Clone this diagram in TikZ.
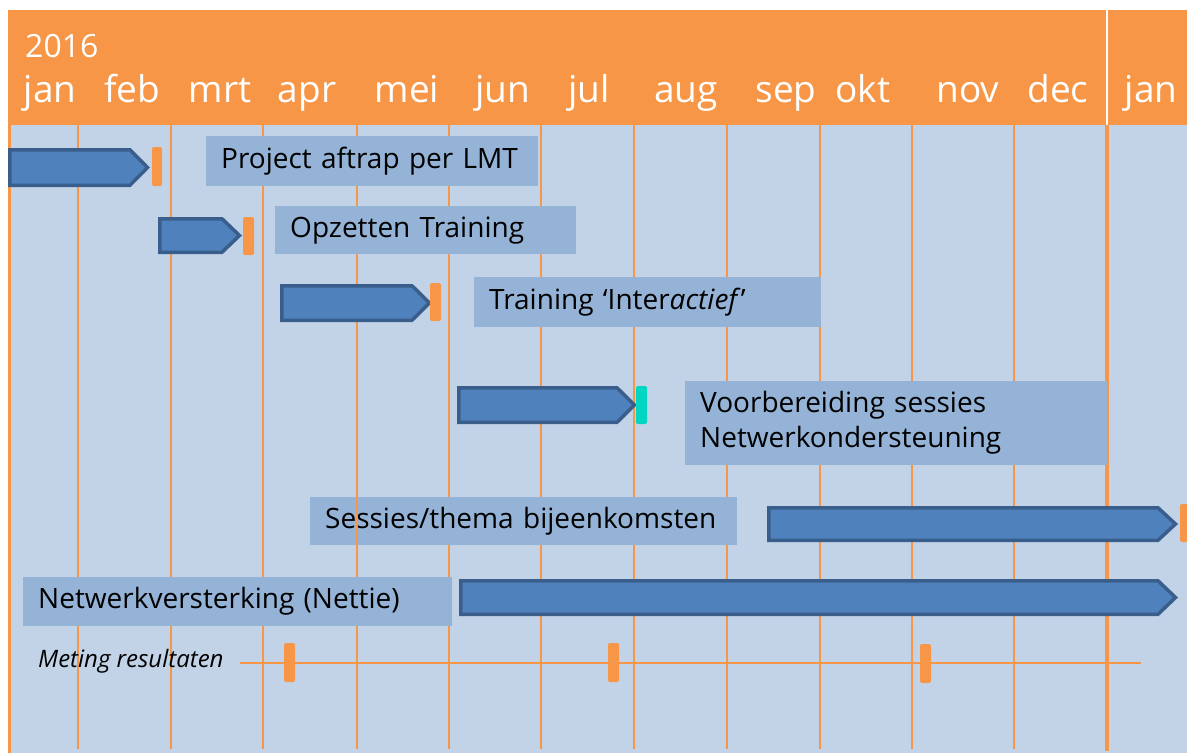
\documentclass[tikz,border=0pt]{standalone}
\usepackage{fontspec}
\setmainfont{Open Sans}
\definecolor{orng}{HTML}{F79646}
\definecolor{bodyblue}{HTML}{C2D3E8}
\definecolor{boxblue}{HTML}{95B3D7}
\definecolor{barfill}{HTML}{4F81BD}
\definecolor{barline}{HTML}{3A5E8C}
\definecolor{teal}{HTML}{00D6C2}
% task bar: #1 left, #2 tip, #3 top, #4 bottom (outer edges)
\newcommand\ganttbar[4]{%
  \draw[barst] ({#1+1.75},{#3+1.75}) -- ({#2-20},{#3+1.75})
    -- ({#2-2.5},{(#3+#4)/2}) -- ({#2-20},{#4-1.75})
    -- ({#1+1.75},{#4-1.75}) -- cycle;}
\begin{document}
\begin{tikzpicture}[x=1pt,y=-1pt,
  gridline/.style={orng, line width=2pt},
  barst/.style={fill=barfill, draw=barline, line width=3.5pt, line join=miter},
  month/.style={anchor=base, inner sep=0pt, text=white, font=\fontsize{37}{44}\selectfont},
  tbox/.style={fill=boxblue, anchor=north west, inner xsep=15pt, inner ysep=0pt,
    align=left, font=\fontsize{28}{35}\selectfont},
  milestone/.style={fill=orng, rounded corners=2pt}]
\useasboundingbox (0,0) rectangle (1187,753);
\clip (0,0) rectangle (1187,753);
\fill[white] (0,0) rectangle (1187,753);
% chart body and month grid
\fill[bodyblue] (9,125) rectangle (1187,753);
\draw[orng, line width=2.5pt] (9.5,125) -- (9.5,753);
\foreach \x in {78,171,263,357,449,541,634,727,820,912,1014}
  \draw[gridline] (\x,125) -- (\x,749);
\draw[orng, line width=4pt] (1107,125) -- (1107,751);
% header
\fill[orng] (8,10) rectangle (1187,125);
\draw[white, line width=1.5pt] (1107,10) -- (1107,125);
\node[anchor=base west, inner sep=0pt, text=white, font=\fontsize{32}{38}\selectfont] (year) at (25,57) {2016};
\foreach \m/\x [count=\i] in {jan/50,feb/132,mrt/220,apr/307,mei/407,jun/503,jul/589,aug/686,sep/786,okt/863,nov/968,dec/1058,jan/1151}
  \node[month] (m\i) at (\x,102) {\m};
% measurement line
\draw[orng, line width=1.5pt] (240,663) -- (1141,663);
\node[anchor=base west, inner sep=0pt, font=\itshape\fontsize{24}{29}\selectfont] (meting) at (38,667) {Meting resultaten};
% activity labels
\node[tbox, minimum width=332pt, minimum height=50pt, text width=302pt] (t1) at (206,136) {Project aftrap per LMT};
\node[tbox, minimum width=301pt, minimum height=48pt, text width=271pt] (t2) at (275,206) {Opzetten Training};
\node[tbox, minimum width=347pt, minimum height=50pt, text width=317pt] (t3) at (474,277) {Training ‘Inter\textit{actief}’};
\node[tbox, minimum width=422pt, minimum height=84pt, text width=392pt] (t4) at (685,381) {Voorbereiding sessies\\Netwerkondersteuning};
\node[tbox, minimum width=427pt, minimum height=48pt, text width=397pt] (t5) at (310,497) {Sessies/thema bijeenkomsten};
\node[tbox, minimum width=429pt, minimum height=49pt, text width=399pt] (t6) at (23,577) {Netwerkversterking (Nettie)};
\draw[gridline] (357,497) -- (357,545);
% task bars
\ganttbar{8}{150}{148}{187}
\ganttbar{158}{242}{217}{254}
\ganttbar{280}{432}{284}{322}
\ganttbar{457}{637}{386}{424}
\ganttbar{767}{1178}{506}{542}
\ganttbar{459}{1178}{579}{616}
% milestones
\fill[milestone] (152,147) rectangle (162,186);
\fill[milestone] (243,217) rectangle (254,255);
\fill[milestone] (430,283) rectangle (441,321);
\fill[fill=teal, rounded corners=2pt] (636,386) rectangle (647,424);
\fill[milestone] (1180,504) rectangle (1191,542);
\fill[milestone] (284,643) rectangle (295,682);
\fill[milestone] (608,643) rectangle (619,682);
\fill[milestone] (920,644) rectangle (931,683);
\end{tikzpicture}
\end{document}
